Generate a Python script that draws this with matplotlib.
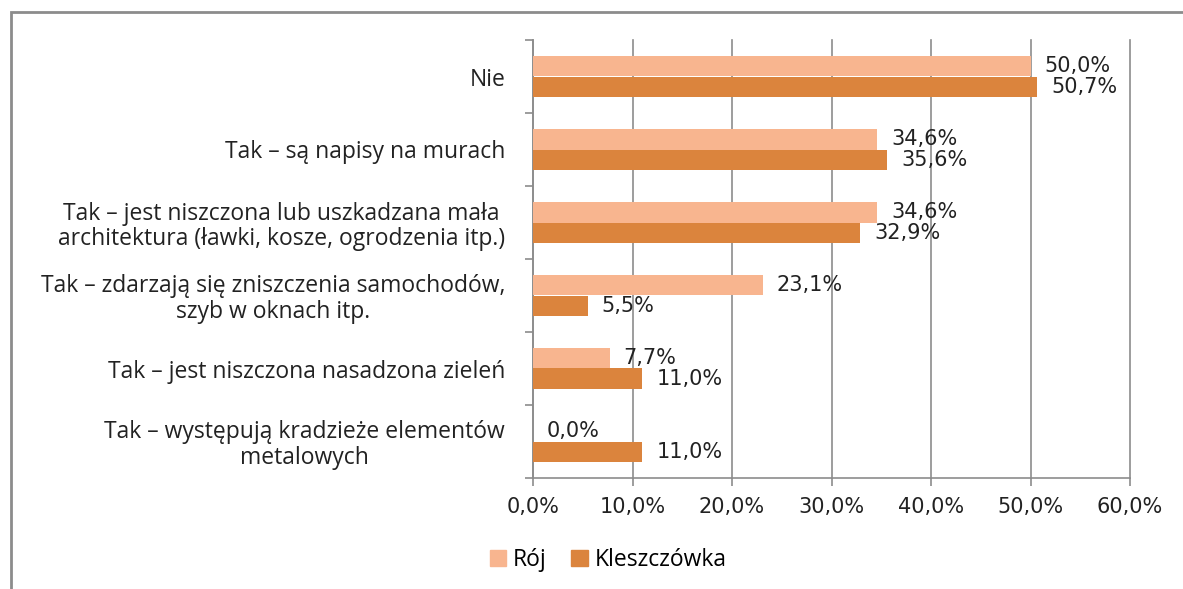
import numpy as np
import matplotlib.pyplot as plt
from matplotlib.patches import Rectangle, Patch

# Survey answers (top to bottom) and shares for both localities, in percent
categories = [
    "Nie",
    "Tak – są napisy na murach",
    "Tak – jest niszczona lub uszkadzana mała\narchitektura (ławki, kosze, ogrodzenia itp.)",
    "Tak – zdarzają się zniszczenia samochodów,\nszyb w oknach itp.",
    "Tak – jest niszczona nasadzona zieleń",
    "Tak – występują kradzieże elementów\nmetalowych",
]
roj = [50.0, 34.6, 34.6, 23.1, 7.7, 0.0]
kleszczowka = [50.7, 35.6, 32.9, 5.5, 11.0, 11.0]
x_ticks = [0, 10, 20, 30, 40, 50, 60]

c_roj = "#F8B58F"
c_kle = "#DB843D"
grid_c = "#8C8C8C"
label_font = "Open Sans"
value_font = "DejaVu Sans"

fig = plt.figure(figsize=(11.83, 5.89), dpi=100)
ax = fig.add_axes([533 / 1183, 1 - 478 / 589, (1130 - 533) / 1183, (478 - 40) / 589])

y = np.arange(len(categories))
h = 0.28
ax.barh(y - h / 2, roj, height=h, color=c_roj, zorder=3)
ax.barh(y + h / 2, kleszczowka, height=h, color=c_kle, zorder=3)

# value labels just past the end of each bar
for yi, v in zip(y - h / 2, roj):
    ax.annotate(f"{v:.1f}%".replace(".", ","), (v, yi), xytext=(14, 0),
                textcoords="offset pixels", va="center", ha="left",
                fontsize=15, family=value_font, color="#222222")
for yi, v in zip(y + h / 2, kleszczowka):
    ax.annotate(f"{v:.1f}%".replace(".", ","), (v, yi), xytext=(14, 0),
                textcoords="offset pixels", va="center", ha="left",
                fontsize=15, family=value_font, color="#222222")

ax.set_xlim(0, 60)
ax.set_ylim(len(categories) - 0.5, -0.5)

ax.set_xticks(x_ticks)
ax.set_xticklabels([f"{t:.1f}%".replace(".", ",") for t in x_ticks],
                   family=value_font, fontsize=15, color="#222222")
ax.tick_params(axis="x", length=6, width=1.2, color=grid_c, pad=8)

# category separators as major ticks, names as minor ticks
ax.set_yticks(np.arange(len(categories) + 1) - 0.5)
ax.set_yticklabels([])
ax.tick_params(axis="y", which="major", length=6, width=1.2, color=grid_c)
ax.set_yticks(y, minor=True)
ax.set_yticklabels(categories, minor=True, family=label_font, fontsize=16.5,
                   color="#222222", ha="right", multialignment="center",
                   linespacing=1.1)
ax.tick_params(axis="y", which="minor", length=0, pad=20)

ax.grid(axis="x", color=grid_c, linewidth=1.2, zorder=0)
for side in ["top", "right"]:
    ax.spines[side].set_visible(False)
for side in ["left", "bottom"]:
    ax.spines[side].set_color(grid_c)
    ax.spines[side].set_linewidth(1.2)
for gl in ax.get_xgridlines():
    gl.set_clip_on(False)

handles = [Patch(color=c_roj, label="Rój"), Patch(color=c_kle, label="Kleszczówka")]
fig.legend(handles=handles, loc="center", bbox_to_anchor=(608 / 1183, 1 - 560 / 589),
           ncol=2, frameon=False, handlelength=0.7, handleheight=0.7,
           handletextpad=0.3, columnspacing=1.1,
           prop={"family": label_font, "size": 16.5})

# outer chart frame
fig.patches.append(Rectangle((10.5 / 1183, -0.1), 1.2, 1.1 - 12.5 / 589,
                             transform=fig.transFigure, fill=False,
                             edgecolor=grid_c, linewidth=2))

fig.savefig("out.png", dpi=100)
